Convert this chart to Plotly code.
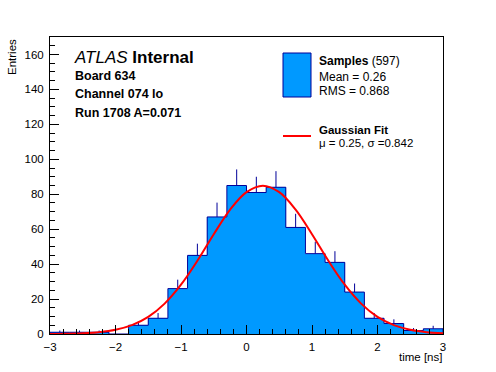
import plotly.graph_objects as go

# ---- data ----
bin_edges = [-3.0, -2.7, -2.4, -2.1, -1.8, -1.5, -1.2, -0.9, -0.6, -0.3, 0.0,
             0.3, 0.6, 0.9, 1.2, 1.5, 1.8, 2.1, 2.4, 2.7, 3.0]
counts = [1, 1, 1, 0, 5, 9, 26, 45, 67, 85, 81, 84, 61, 46, 41, 24, 9, 6, 2, 3]
errors = [1.0, 1.0, 1.0, 0.0, 2.2, 3.0, 5.1, 6.7, 8.2, 9.2, 9.0, 9.2, 7.8, 6.8,
          6.4, 4.9, 3.0, 2.4, 1.4, 1.7]
fit_x = [-3.0, -2.75, -2.5, -2.25, -2.0, -1.75, -1.5, -1.25, -1.0, -0.75, -0.5,
         -0.25, 0.0, 0.25, 0.5, 0.75, 1.0, 1.25, 1.5, 1.75, 2.0, 2.25, 2.5, 2.75, 3.0]
fit_y = [0.05, 0.15, 0.41, 1.03, 2.39, 5.05, 9.79, 17.4, 28.2, 41.9, 57.1,
         71.2, 81.2, 84.9, 81.2, 71.2, 57.1, 41.9, 28.2, 17.4, 9.79, 5.05, 2.39, 1.03, 0.41]
x_ticks = [-3, -2, -1, 0, 1, 2, 3]
y_ticks = [0, 20, 40, 60, 80, 100, 120, 140, 160]

FILL = "#0099ff"
EDGE = "#000099"
FONT = "Liberation Sans, Arial, sans-serif"

W, H = 496, 372
L, R, T, B = 50, 443, 37, 334  # plot area in pixels

lefts = bin_edges[:-1]
bw = [bin_edges[i + 1] - bin_edges[i] for i in range(len(lefts))]
centers = [lefts[i] + bw[i] / 2 for i in range(len(lefts))]

fig = go.Figure()
fig.add_trace(go.Bar(x=lefts, y=counts, width=bw, offset=0,
                     marker=dict(color=FILL, line=dict(width=0)),
                     hoverinfo="skip"))
fig.add_trace(go.Scatter(x=centers, y=counts, mode="markers",
                         marker=dict(size=0.1, color=EDGE),
                         error_y=dict(type="data", array=errors,
                                      arrayminus=[0] * len(errors),
                                      width=0, thickness=1, color=EDGE),
                         hoverinfo="skip"))
step_x = [bin_edges[0]] + lefts + [bin_edges[-1], bin_edges[-1]]
step_y = [0] + counts + [counts[-1], 0]
fig.add_trace(go.Scatter(x=step_x, y=step_y, mode="lines", line_shape="hv",
                         line=dict(color=EDGE, width=1), hoverinfo="skip"))
fig.add_trace(go.Scatter(x=fit_x, y=fit_y, mode="lines", line_shape="spline",
                         line=dict(color="#ff0000", width=2), hoverinfo="skip"))


def px(x):
    return (x - L) / (R - L)


def py(y):
    return (B - y) / (B - T)


shapes = [
    dict(type="rect", xref="paper", yref="paper", x0=px(283), x1=px(311),
         y0=py(97), y1=py(53), fillcolor=FILL, line=dict(color=EDGE, width=1)),
    dict(type="line", xref="paper", yref="paper", x0=px(283), x1=px(311),
         y0=py(136), y1=py(136), line=dict(color="#ff0000", width=2)),
]

ann = []


def text(x, y, s, size, **kw):
    d = dict(xref="paper", yref="paper", x=px(x), y=py(y), text=s, showarrow=False,
             xanchor="left", yanchor="middle", font=dict(family=FONT, size=size, color="black"))
    d.update(kw)
    ann.append(d)


text(72, 57, "<i>ATLAS</i> <b>Internal</b>", 17)
text(73, 76, "<b>Board 634</b>", 12.5)
text(73, 94.5, "<b>Channel 074 lo</b>", 12.5)
text(73, 112.5, "<b>Run 1708 A=0.071</b>", 12.5)
text(317, 61, "<b>Samples</b> (597)", 12)
text(317, 77, "Mean = 0.26", 12)
text(317, 90.5, "RMS = 0.868", 12)
text(317, 129.5, "<b>Gaussian Fit</b>", 11.5)
text(317, 142.5, "μ = 0.25, σ =0.842", 11.5)
text(444, 357, "time [ns]", 11.5, xanchor="right")
text(12, 37, "Entries", 11.5, xanchor="center", yanchor="top", textangle=-90)

fig.update_layout(
    width=W, height=H,
    margin=dict(l=L, r=W - R, t=T, b=H - B, pad=0),
    paper_bgcolor="white", plot_bgcolor="white",
    showlegend=False, bargap=0,
    shapes=shapes, annotations=ann,
    font=dict(family=FONT, size=11, color="black"),
    xaxis=dict(range=[-3, 3], tickvals=x_ticks, ticks="inside", ticklen=9,
               tickcolor="black", showline=True, linecolor="black", linewidth=1,
               mirror=True, showgrid=False, zeroline=False,
               ticklabelstandoff=2,
               minor=dict(dtick=0.2, tick0=0, ticks="inside", ticklen=5, tickcolor="black",
                          showgrid=False),
               tickfont=dict(family=FONT, size=11.5, color="black")),
    yaxis=dict(range=[0, 170], tickvals=y_ticks, ticks="inside", ticklen=9,
               tickcolor="black", showline=True, linecolor="black", linewidth=1,
               mirror=True, showgrid=False, zeroline=False,
               ticklabelstandoff=3,
               minor=dict(dtick=5, tick0=0, ticks="inside", ticklen=5, tickcolor="black",
                          showgrid=False),
               tickfont=dict(family=FONT, size=11.5, color="black")),
)

fig.write_html("out.html", config={"displayModeBar": False},
               post_script="document.body.style.margin='0';")
